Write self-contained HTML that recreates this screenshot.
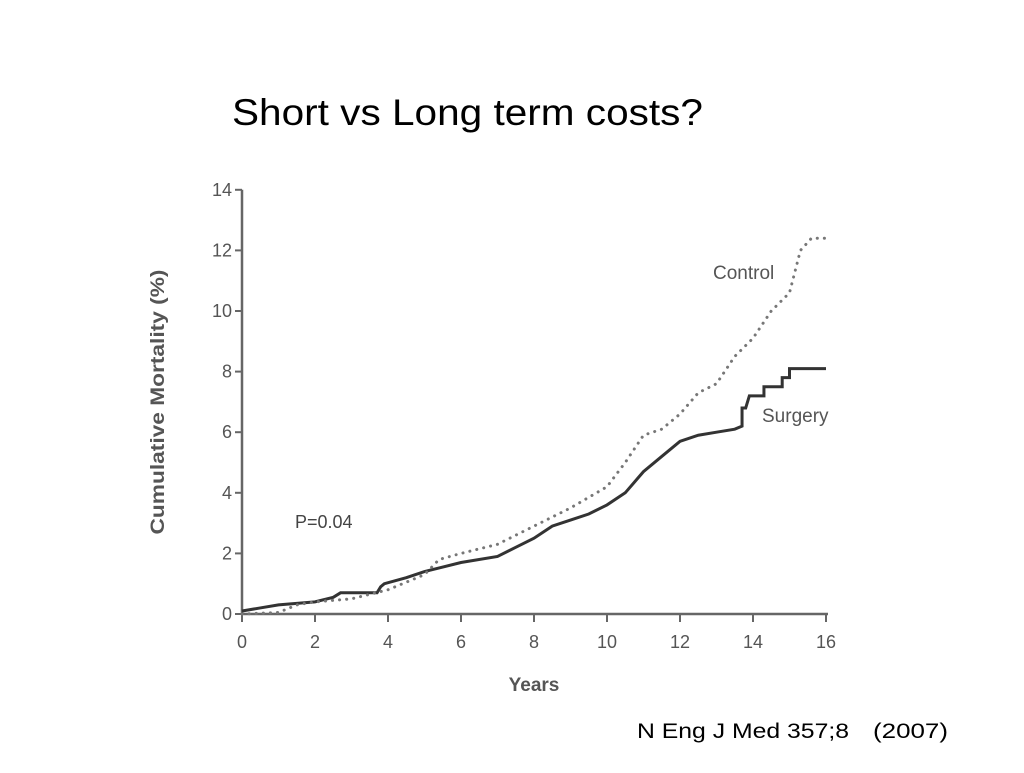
<!DOCTYPE html>
<html><head><meta charset="utf-8"><style>
body{margin:0;background:#fff;width:1024px;height:768px;overflow:hidden;font-family:"Liberation Sans",sans-serif}
</style></head><body>
<svg width="1024" height="768">
<text x="232" y="125" font-size="37" fill="#000" textLength="471" lengthAdjust="spacingAndGlyphs">Short vs Long term costs?</text>
<g id="axes"></g>
<g id="series"></g>
<text x="295" y="528" font-size="18" fill="#444">P=0.04</text>
<text x="713" y="279" font-size="19" fill="#555">Control</text>
<text x="762" y="422" font-size="19" fill="#555">Surgery</text>
<text x="534" y="691" font-size="19" font-weight="bold" fill="#555" text-anchor="middle">Years</text>
<text transform="translate(164,402) rotate(-90)" font-size="19" font-weight="bold" fill="#555" text-anchor="middle" textLength="265" lengthAdjust="spacingAndGlyphs">Cumulative Mortality (%)</text>
<text x="637" y="738" font-size="21" fill="#000"><tspan textLength="212" lengthAdjust="spacingAndGlyphs">N Eng J Med 357;8</tspan><tspan x="873" textLength="75" lengthAdjust="spacingAndGlyphs">(2007)</tspan></text>
</svg>
<script>
const xTicks=[0,2,4,6,8,10,12,14,16];
const yTicks=[0,2,4,6,8,10,12,14];
const surgeryX=[0,0.5,1,2,2.5,2.7,3.7,3.8,3.9,4.5,5,5.5,6,7,7.5,8,8.5,9,9.5,10,10.5,11,11.5,12,12.5,13,13.5,13.7,13.7,13.8,13.9,14.3,14.3,14.8,14.8,15,15,16];
const surgeryY=[0.1,0.2,0.3,0.4,0.55,0.7,0.7,0.9,1.0,1.2,1.4,1.55,1.7,1.9,2.2,2.5,2.9,3.1,3.3,3.6,4.0,4.7,5.2,5.7,5.9,6.0,6.1,6.2,6.8,6.8,7.2,7.2,7.5,7.5,7.8,7.8,8.1,8.1];
const controlX=[0,1,1.5,2,3,4,5,5.4,6,7,8,9,10,10.5,11,11.5,12,12.5,13,13.5,14,14.5,15,15.3,15.6,16];
const controlY=[0,0.05,0.3,0.4,0.5,0.8,1.3,1.8,2.0,2.3,2.9,3.5,4.2,5.0,5.9,6.1,6.6,7.3,7.6,8.5,9.1,10.0,10.6,12.0,12.4,12.4];
const NS='http://www.w3.org/2000/svg';
const sx=v=>242+v*36.5, sy=v=>614-v*30.3;
const ax=document.getElementById('axes'), se=document.getElementById('series');
function mk(t,a,p){const e=document.createElementNS(NS,t);for(const k in a)e.setAttribute(k,a[k]);p.appendChild(e);return e;}
let l=mk('line',{x1:242,y1:sy(14),x2:242,y2:614,stroke:'#666','stroke-width':2.5},ax);


l=mk('line',{x1:242,y1:614,x2:sx(16)+2,y2:614,stroke:'#666','stroke-width':2.5},ax);


xTicks.forEach(v=>{
 const t=mk('line',{x1:sx(v),y1:614,x2:sx(v),y2:622,stroke:'#666','stroke-width':2},ax);
 
 
 const tx=mk('text',{x:sx(v),y:648,'font-size':18,fill:'#555','text-anchor':'middle'},ax);tx.textContent=v;
 
 
});
yTicks.forEach(v=>{
 const t=mk('line',{x1:235,y1:sy(v),x2:242,y2:sy(v),stroke:'#666','stroke-width':2},ax);
 
 
 const tx=mk('text',{x:232,y:sy(v)+6,'font-size':18,fill:'#555','text-anchor':'end'},ax);tx.textContent=v;
 
 
});
let d=surgeryX.map((x,i)=>(i?'L':'M')+sx(x)+','+sy(surgeryY[i])).join(' ');
let p=mk('path',{d:d,fill:'none',stroke:'#333','stroke-width':3,'stroke-linejoin':'miter'},se);


let d2=controlX.map((x,i)=>(i?'L':'M')+sx(x)+','+sy(controlY[i])).join(' ');
p=mk('path',{d:d2,fill:'none',stroke:'#777','stroke-width':3,'stroke-dasharray':'0.1 7','stroke-linecap':'round'},se);


</script>
</body></html>
